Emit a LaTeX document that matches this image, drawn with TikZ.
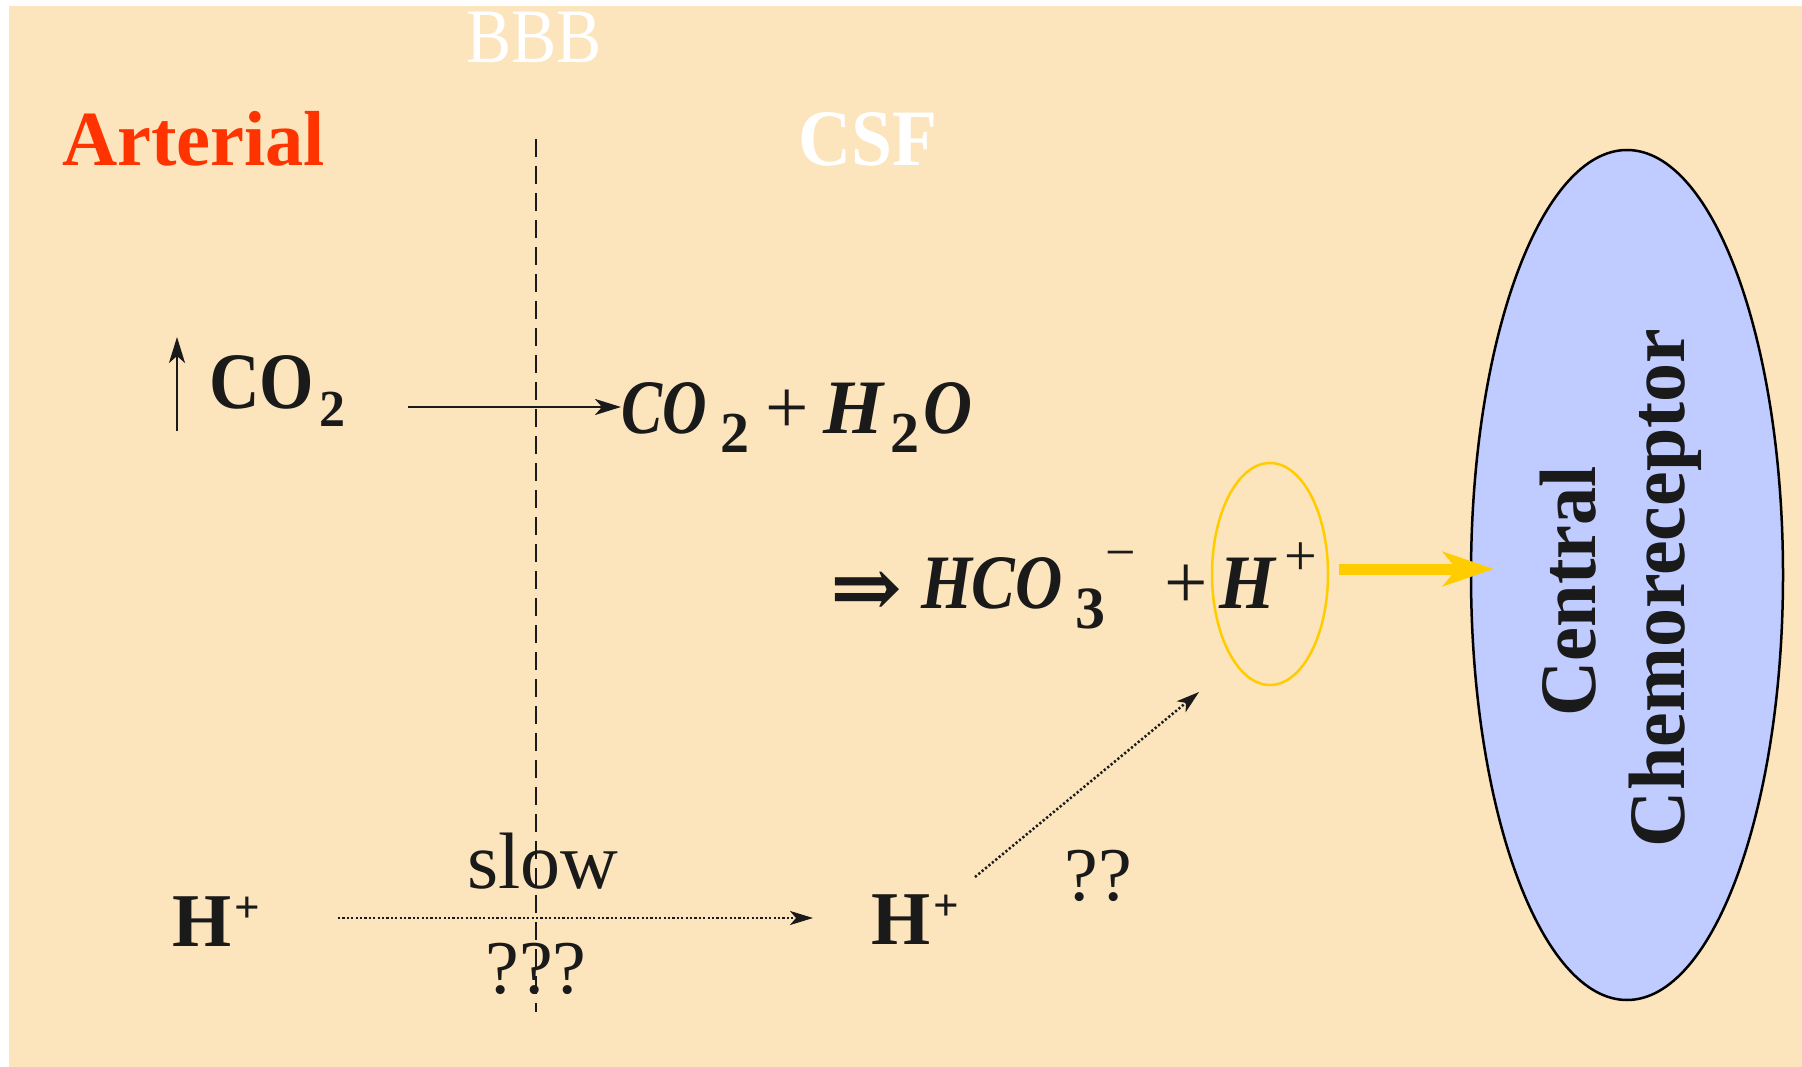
\documentclass[tikz,border=0pt]{standalone}
\usepackage{fontspec}
\setmainfont{Liberation Serif}
\newfontfamily\symfont{DejaVu Serif}
\usetikzlibrary{arrows.meta,shapes.geometric,calc}
\definecolor{bg}{RGB}{252,228,188}
\definecolor{ink}{RGB}{26,26,26}
\definecolor{artred}{RGB}{255,51,0}
\definecolor{gold}{RGB}{255,204,0}
\definecolor{chemo}{RGB}{192,204,255}
\newcommand\fs[1]{\fontsize{#1}{#1}\selectfont}
\newcommand\lowsub[3]{\raisebox{-#1pt}{\fs{#2}#3}}
\newcommand\hisup[3]{\raisebox{#1pt}{\fs{#2}#3}}
\begin{document}
\begin{tikzpicture}[x=1pt,y=-1pt,
  txt/.style={inner sep=0pt, outer sep=0pt, text=ink},
  thinarrow/.style={draw=ink, line width=2.5pt, -{Stealth[length=26pt,width=16pt,inset=7pt]}},
  dotarrow/.style={draw=ink, line width=2.5pt, dash pattern=on 2.2pt off 2.2pt, -{Stealth[length=23pt,width=14pt,inset=6pt]}},
  barrier/.style={draw=ink, line width=2pt, dash pattern=on 18pt off 9pt},
]
\useasboundingbox (0,0) rectangle (1802,1067);
\fill[white] (0,0) rectangle (1802,1067);
\fill[bg] (9,6) rectangle (1802,1067);

% labels at top
\node[txt, text=white, anchor=base west, font=\fs{77}] (bbb) at (466,63) {\scalebox{0.88}[1]{BBB}};
\node[txt, text=artred, anchor=base west, font=\fs{78}\bfseries] (art) at (62,166) {\scalebox{0.98}[1]{Arterial}};
\node[txt, text=white, anchor=base west, font=\fs{80}\bfseries] (csf) at (798,166) {\scalebox{0.92}[1]{CSF}};

% blood-brain barrier
\coordinate (bt) at (536,139);
\coordinate (bb) at (536,1012);
\draw[barrier] (bt) -- (bb);

% rising CO2
\coordinate (up1) at (177,431);
\coordinate (up2) at (177,337);
\draw[thinarrow] (up1) -- (up2);
\node[txt, anchor=base west, font=\fs{80}\bfseries] (co2L) at (209,408)
  {\scalebox{0.875}[1]{CO}\hspace{5pt}\lowsub{18}{52}{2}};

% CO2 + H2O
\node[txt, anchor=base west, font=\fs{77}\bfseries\itshape] (eq1) at (621,433)
  {\scalebox{0.8}[1]{CO}\hspace{14pt}\lowsub{19}{58}{\upshape 2}\hspace{16pt}{\normalfont +}\hspace{14pt}H\hspace{8pt}\lowsub{19}{58}{\upshape 2}\hspace{4pt}\scalebox{0.88}[1]{O}};
\coordinate (a1s) at (408,407);
\coordinate (a1e) at (621,407);
\draw[thinarrow] (a1s) -- (a1e);

% => HCO3- + H+
\node[txt, anchor=base west, font=\fs{86}\symfont\bfseries] (impl) at (830,617) {⇒};
\node[txt, anchor=base west, font=\fs{77}\bfseries\itshape] (hco) at (921,608)
  {\scalebox{0.85}[1]{HCO}\hspace{13pt}\lowsub{20}{60}{\upshape 3}\hisup{38}{54}{\normalfont −}};
\node[txt, anchor=base west, font=\fs{77}] (plus) at (1164,608) {+};
\node[txt, anchor=base west, font=\fs{77}\bfseries\itshape] (hplus) at (1219,608)
  {\scalebox{0.93}[1]{H}\hspace{10pt}\hisup{33}{58}{\normalfont +}};
\node[draw=gold, line width=2.5pt, ellipse, minimum width=116pt, minimum height=222pt, inner sep=0pt] (ring) at (1270,574) {};

% central chemoreceptor
\node[draw=black, fill=chemo, line width=2.5pt, ellipse, minimum width=312pt, minimum height=850pt, inner sep=0pt] (cc) at (1627,575) {};
\node[txt, rotate=90, anchor=base, font=\fs{80}\bfseries] (central) at (1595,591) {\scalebox{0.955}[1]{Central}};
\node[txt, rotate=90, anchor=base, font=\fs{80}\bfseries] (chemo) at (1684,588) {\scalebox{0.975}[1]{Chemoreceptor}};
\coordinate (ys) at (1339,569);
\coordinate (ye) at (1494,569);
\draw[draw=gold, line width=11pt, -{Stealth[length=51pt,width=34pt,inset=14pt]}] (ys) -- (ye);

% H+ transport
\node[txt, anchor=base west, font=\fs{76}\bfseries] (hL) at (172,946) {H\hspace{3pt}\hisup{24}{45}{+}};
\node[txt, anchor=base west, font=\fs{76}\bfseries] (hR) at (871,944) {H\hspace{3pt}\hisup{24}{45}{+}};
\node[txt, anchor=base west, font=\fs{80}] (slow) at (467,888) {slow};
\node[txt, anchor=base, font=\fs{76}] (q3) at (536,993) {???};
\node[txt, anchor=base, font=\fs{76}] (q2) at (1098,900) {??};
\coordinate (h1s) at (338,918);
\coordinate (h1e) at (813,918);
\draw[dotarrow] (h1s) -- (h1e);
\coordinate (d1) at (975,877);
\coordinate (d2) at (1199,692);
\draw[dotarrow] (d1) -- (d2);
\end{tikzpicture}
\end{document}
